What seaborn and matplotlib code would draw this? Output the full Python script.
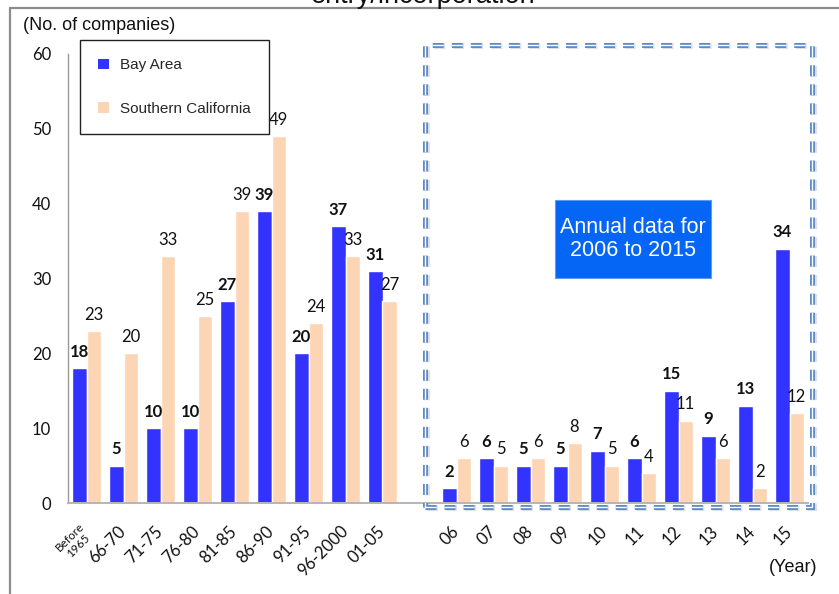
import matplotlib
matplotlib.use("Agg")
import matplotlib.pyplot as plt
import matplotlib.font_manager as fm
from matplotlib.patches import Rectangle, Patch
from matplotlib.lines import Line2D
import pandas as pd
import seaborn as sns

# Number of companies by period of entry/incorporation
periods = ["Before\n1965", "66-70", "71-75", "76-80", "81-85", "86-90",
           "91-95", "96-2000", "01-05"]
years = ["06", "07", "08", "09", "10", "11", "12", "13", "14", "15"]

bay_periods = [18, 5, 10, 10, 27, 39, 20, 37, 31]
socal_periods = [23, 20, 33, 25, 39, 49, 24, 33, 27]
bay_years = [2, 6, 5, 5, 7, 6, 15, 9, 13, 34]
socal_years = [6, 5, 6, 8, 5, 4, 11, 6, 2, 12]

regions = ["Bay Area", "Southern California"]
colors = ["#3333FF", "#FCD5B4"]

sns.set_theme(style="white")
plt.rcParams["font.family"] = ["Lato", "DejaVu Sans"]

installed = {f.name for f in fm.fontManager.ttflist}
narrow = "Liberation Sans Narrow" if "Liberation Sans Narrow" in installed else "Liberation Sans"

cats = periods + years
df = pd.DataFrame({
    "period": cats * 2,
    "region": [regions[0]] * len(cats) + [regions[1]] * len(cats),
    "companies": bay_periods + bay_years + socal_periods + socal_years,
})
# blank slot separating the 5-year periods from the annual data
order = periods + [" "] + years

W, H = 839, 594
fig = plt.figure(figsize=(W / 100, H / 100), dpi=100)
ax = fig.add_axes([68 / W, 1 - 503 / H, (808 - 68) / W, (503 - 54) / H])

sns.barplot(data=df, x="period", y="companies", hue="region", order=order,
            hue_order=regions, palette=colors, width=0.757, gap=0,
            saturation=1, legend=False, ax=ax)

for cont, weight in zip(ax.containers, ["bold", "normal"]):
    ax.bar_label(cont, padding=6, fontsize=12, fontweight=weight,
                 color="#111111")

ax.set_ylim(0, 60)
ax.set_xlim(-0.5, len(order) - 0.5)
ax.set_yticks(range(0, 61, 10))
ax.set_xlabel("")
ax.set_ylabel("")
ax.set_xticks(range(len(order)))
ax.set_xticklabels(order, rotation=45, ha="right", va="center",
                   rotation_mode="anchor", fontsize=12)
ax.get_xticklabels()[0].set_fontsize(8.5)
ax.get_xticklabels()[0].set_multialignment("center")
ax.tick_params(axis="x", length=0, pad=18.5, colors="#111111")
ax.tick_params(axis="y", length=0, pad=12, labelsize=12, colors="#111111")
for s in ["top", "right"]:
    ax.spines[s].set_visible(False)
ax.spines["left"].set_color("#9A9A9A")
ax.spines["left"].set_linewidth(1.0)
ax.spines["bottom"].set_color("#B5B5B5")
ax.spines["bottom"].set_linewidth(1.4)

handles = [Patch(facecolor=c, edgecolor="none", label=r) for c, r in zip(colors, regions)]
leg = ax.legend(handles=handles, loc="upper left",
                bbox_to_anchor=(80 / W, 1 - 40 / H), bbox_transform=fig.transFigure,
                borderaxespad=0, frameon=True, fancybox=False, framealpha=1,
                edgecolor="#222222", handlelength=0.7, handleheight=0.7,
                handletextpad=0.7, labelspacing=1.95, borderpad=1.2,
                prop={"family": narrow, "size": 11})
leg.get_frame().set_linewidth(1.0)

# outer frame
frame_kw = dict(color="#8C8C8C", lw=1.6, transform=fig.transFigure)
fig.add_artist(Line2D([10 / W, 1], [1 - 8 / H, 1 - 8 / H], **frame_kw))
fig.add_artist(Line2D([10 / W, 10 / W], [1 - 8 / H, 0], **frame_kw))

# dashed double-line box around the annual data
bx0, by0, bx1, by1 = 425, 45, 812, 507
rect_xy = (bx0 / W, 1 - by1 / H)
rw, rh = (bx1 - bx0) / W, (by1 - by0) / H
dash_pt, gap_pt = 7.9, 5.8
for dx, dy, lw, col, alpha in [(1.5, -1.5, 4.5, "#000000", 0.12),
                                (0, 0, 3.6, "#5B8BC9", 1.0),
                                (0, 0, 1.0, "#FFFFFF", 1.0)]:
    fig.add_artist(Rectangle((rect_xy[0] + dx / W, rect_xy[1] + dy / H), rw, rh,
                             transform=fig.transFigure, fill=False, lw=lw,
                             edgecolor=col, alpha=alpha,
                             linestyle=(0, (dash_pt / lw, gap_pt / lw))))

# note box
fig.add_artist(Rectangle((555 / W, 1 - 278 / H), (711 - 555) / W, (278 - 200) / H,
                         transform=fig.transFigure, facecolor="#0565F5",
                         edgecolor="#5E9BF0", lw=0.8))
fig.text(633 / W, 1 - 239 / H, "Annual data for\n2006 to 2015", ha="center",
         va="center", color="white", fontsize=15.5, family="Liberation Sans",
         linespacing=1.15)

fig.text(423 / W, 1 - 3 / H, "entry/incorporation", ha="center", va="baseline",
         fontsize=19.5, family="Liberation Sans", color="#111111")
fig.text(23 / W, 1 - 25 / H, "(No. of companies)", ha="left", va="center",
         fontsize=13, family="Liberation Sans", color="#111111")
fig.text(817 / W, 1 - 567 / H, "(Year)", ha="right", va="center",
         fontsize=13, family="Liberation Sans", color="#111111")

fig.savefig("out.png", dpi=100)
